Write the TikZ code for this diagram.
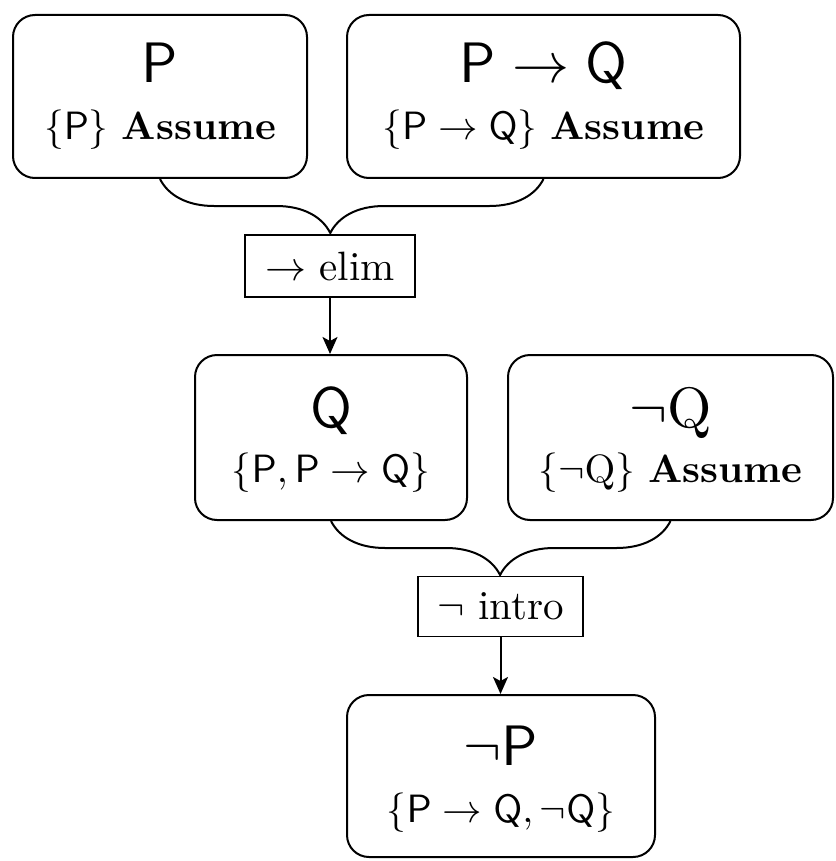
\documentclass[tikz,border=0pt]{standalone}
\usepackage{graphicx}
\usetikzlibrary{decorations.pathreplacing,arrows.meta}
\newcommand\bigline[1]{\scalebox{5.7}{#1}}
\newcommand\smallline[1]{\scalebox{3.95}{#1}}
\newcommand\ruleline[1]{\scalebox{4.1}{#1}}
\tikzset{
  box/.style={draw, line width=2pt, rounded corners=22pt, inner sep=0pt},
  rulebox/.style={draw, line width=1.8pt, inner sep=0pt},
  bigtxt/.style={anchor=base, inner sep=0pt},
  smalltxt/.style={anchor=base, inner sep=0pt},
  joinbrace/.style={draw, line width=2pt, decorate, decoration={brace, mirror, amplitude=54pt, aspect=#1}},
  infer/.style={draw, line width=2pt, -{Stealth[length=17pt,width=15pt,inset=4pt]}}
}
\begin{document}
\begin{tikzpicture}[x=1pt,y=-1pt]
\useasboundingbox (0,0) rectangle (835,861);
% top row
\node[box, minimum width=294, minimum height=163] (p) at (160,96.5) {};
\node[bigtxt] (pt) at (160,83) {\bigline{$\mathsf{P}$}};
\node[smalltxt] (pa) at (160,140) {\smallline{$\{\mathsf{P}\}$ \textbf{Assume}}};
\node[box, minimum width=393, minimum height=163] (pq) at (543.5,96.5) {};
\node[bigtxt] (pqt) at (543.5,83) {\bigline{$\mathsf{P}\rightarrow\mathsf{Q}$}};
\node[smalltxt] (pqa) at (543.5,140) {\smallline{$\{\mathsf{P}\rightarrow\mathsf{Q}\}$ \textbf{Assume}}};
% elim rule
\node[rulebox, minimum width=170, minimum height=62] (elim) at (330,266) {\ruleline{$\rightarrow$ elim}};
% middle row
\node[box, minimum width=272, minimum height=165] (q) at (331,437.5) {};
\node[bigtxt] (qt) at (331,427) {\bigline{$\mathsf{Q}$}};
\node[smalltxt] (qa) at (331,482) {\smallline{$\{\mathsf{P},\mathsf{P}\rightarrow\mathsf{Q}\}$}};
\node[box, minimum width=325, minimum height=165] (nq) at (670.5,437.5) {};
\node[bigtxt] (nqt) at (670.5,427) {\bigline{$\neg\mathrm{Q}$}};
\node[smalltxt] (nqa) at (670.5,482) {\smallline{$\{\neg\mathrm{Q}\}$ \textbf{Assume}}};
% intro rule
\node[rulebox, minimum width=165, minimum height=60] (intro) at (500.5,606.5) {\ruleline{$\neg$ intro}};
% bottom
\node[box, minimum width=308, minimum height=162] (np) at (501,776) {};
\node[bigtxt] (npt) at (501,765) {\bigline{$\neg\mathsf{P}$}};
\node[smalltxt] (npa) at (501,822) {\smallline{$\{\mathsf{P}\rightarrow\mathsf{Q},\neg\mathsf{Q}\}$}};
% connectors
\draw[joinbrace=0.444] (p.south) -- (pq.south);
\draw[joinbrace=0.498] (q.south) -- (nq.south);
\draw[infer] (elim.south) -- (elim.south |- q.north);
\draw[infer] (intro.south) -- (intro.south |- np.north);
\end{tikzpicture}
\end{document}
